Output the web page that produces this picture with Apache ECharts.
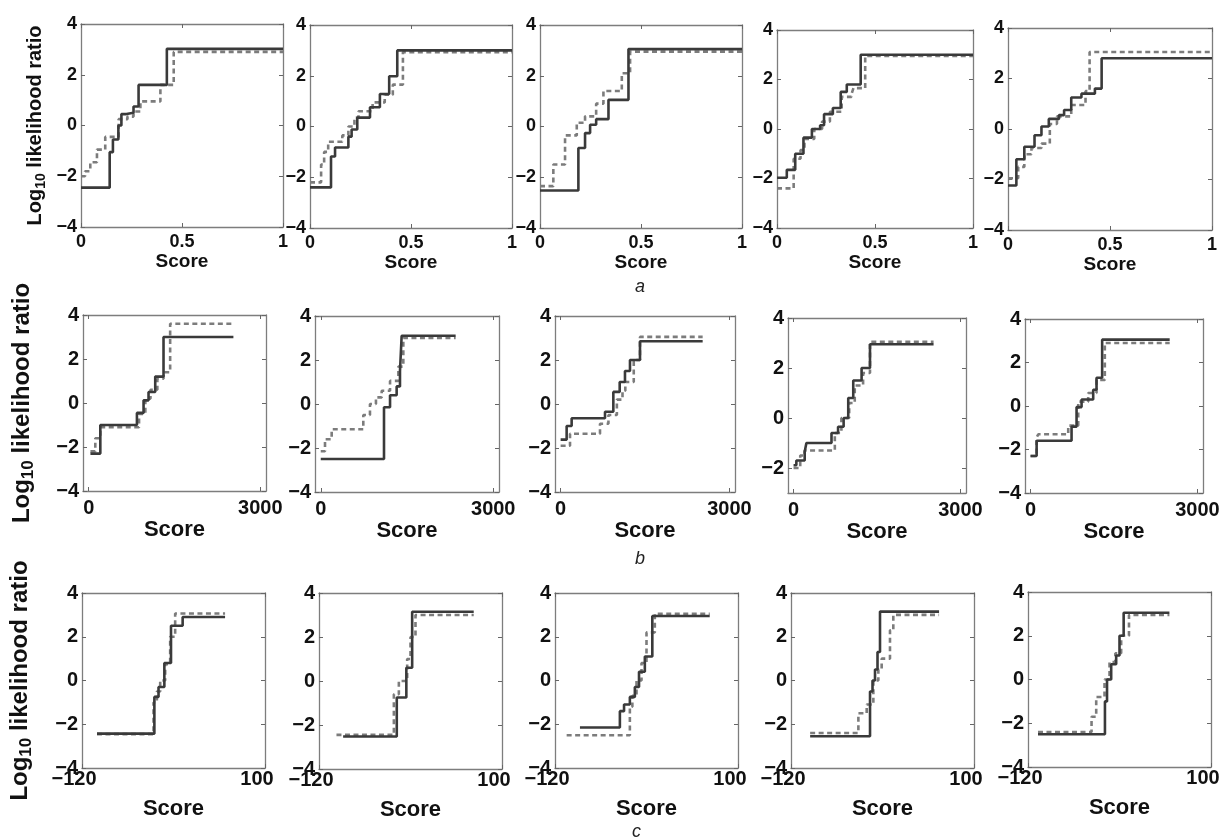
<!DOCTYPE html>
<html>
<head>
<meta charset="utf-8">
<script src="https://cdn.jsdelivr.net/npm/echarts@6/dist/echarts.min.js"></script>
<style>
html, body { margin: 0; background: #fff; }
#main { width: 1232px; height: 839px; }
</style>
</head>
<body>
<div id="main"></div>
<script>
// step curves: [score, log10 LR level starting at that score]
var a1Solid = [[0,-2.45],[0.142,-1.05],[0.158,-0.55],[0.185,0.0],[0.2,0.45],[0.225,0.5],[0.26,0.75],[0.285,1.6],[0.425,3.02],[1,3.02]];
var a1Dashed = [[0,-2.0],[0.02,-1.8],[0.046,-1.45],[0.079,-0.95],[0.12,-0.45],[0.186,0.25],[0.23,0.35],[0.26,0.55],[0.294,0.95],[0.393,1.6],[0.459,2.9],[1,2.9]];
var a2Solid = [[0,-2.4],[0.104,-1.18],[0.124,-0.83],[0.19,-0.4],[0.206,-0.12],[0.234,0.35],[0.297,0.76],[0.346,1.28],[0.392,1.98],[0.432,3.0],[1,3.0]];
var a2Dashed = [[0,-2.2],[0.055,-1.5],[0.07,-1.0],[0.09,-0.6],[0.16,-0.35],[0.19,0.0],[0.22,0.35],[0.24,0.6],[0.31,0.95],[0.37,1.25],[0.41,1.65],[0.46,2.93],[1,2.93]];
var a3Solid = [[0,-2.52],[0.19,-0.85],[0.223,-0.26],[0.248,0.07],[0.278,0.29],[0.339,1.05],[0.438,3.05],[1,3.05]];
var a3Dashed = [[0,-2.35],[0.066,-1.5],[0.124,-0.35],[0.182,0.15],[0.223,0.4],[0.278,0.9],[0.314,1.4],[0.405,2.1],[0.446,2.95],[1,2.95]];
var a4Solid = [[0,-1.97],[0.05,-1.65],[0.093,-1.0],[0.135,-0.35],[0.178,0.0],[0.22,0.15],[0.24,0.6],[0.285,0.85],[0.325,1.5],[0.356,1.8],[0.427,3.0],[1,3.0]];
var a4Dashed = [[0,-2.4],[0.085,-1.2],[0.12,-0.85],[0.14,-0.4],[0.19,0.0],[0.23,0.3],[0.27,0.7],[0.33,1.3],[0.38,1.4],[0.39,1.65],[0.45,2.95],[1,2.95]];
var a5Solid = [[0,-2.24],[0.041,-1.2],[0.08,-0.7],[0.13,-0.25],[0.164,0.1],[0.2,0.4],[0.25,0.55],[0.275,0.75],[0.31,1.25],[0.36,1.4],[0.426,1.6],[0.459,2.8],[1,2.8]];
var a5Dashed = [[0,-1.95],[0.05,-1.5],[0.08,-1.0],[0.115,-0.75],[0.164,-0.58],[0.205,0.2],[0.24,0.5],[0.31,0.95],[0.38,1.5],[0.4,3.05],[1,3.05]];

var b1Solid = [[30,-2.3],[203,-1.0],[843,-0.45],[959,0.12],[1046,0.5],[1163,1.2],[1308,3.0],[2530,3.0]];
var b1Dashed = [[30,-2.2],[115,-1.6],[203,-1.1],[880,-0.5],[990,0.2],[1080,0.6],[1200,1.1],[1308,1.4],[1424,3.6],[2530,3.6]];
var b2Solid = [[0,-2.5],[1100,-0.15],[1205,0.4],[1320,0.8],[1378,1.5],[1407,3.1],[2346,3.1]];
var b2Dashed = [[0,-2.15],[74,-1.6],[190,-1.15],[740,-0.5],[856,0.0],[960,0.3],[1060,0.6],[1205,1.05],[1350,1.7],[1436,3.0],[2346,3.0]];
var b3Solid = [[0,-1.62],[107,-1.0],[196,-0.65],[789,-0.35],[937,0.55],[1050,1.0],[1144,1.5],[1233,2.0],[1411,2.85],[2525,2.85]];
var b3Dashed = [[0,-1.9],[167,-1.35],[700,-0.9],[850,-0.5],[1000,0.2],[1100,0.6],[1150,1.0],[1300,2.0],[1411,3.05],[2525,3.05]];
var b4Solid = [[0,-1.89],[50,-1.7],[200,-1.35],[231,-1.0],[682,-0.6],[800,-0.35],[900,0.0],[983,0.8],[1073,1.5],[1223,2.0],[1374,2.95],[2517,2.95]];
var b4Dashed = [[0,-2.0],[120,-1.5],[200,-1.3],[742,-0.6],[860,0.0],[1000,0.6],[1100,1.3],[1250,1.8],[1374,3.05],[2517,3.05]];
var b5Solid = [[0,-2.3],[109,-1.6],[737,-0.95],[827,-0.05],[917,0.3],[1126,0.75],[1186,1.3],[1287,3.05],[2501,3.05]];
var b5Dashed = [[0,-2.3],[109,-1.45],[139,-1.3],[677,-0.9],[857,0.2],[1036,0.6],[1186,1.2],[1335,2.9],[2501,2.9]];

var c1Solid = [[-102,-2.43],[-33,-0.75],[-28,-0.3],[-21,0.8],[-13,2.5],[1,2.9],[52,2.9]];
var c1Dashed = [[-102,-2.45],[-34,-1.0],[-30,-0.5],[-26,0.0],[-20,0.75],[-14,2.0],[-8,3.06],[52,3.06]];
var c2Solid = [[-91,-2.52],[-26.5,-0.75],[-15,0.6],[-8,3.15],[66,3.15]];
var c2Dashed = [[-99,-2.45],[-30,-0.6],[-24,0.0],[-14,1.0],[-10,2.0],[-4,3.0],[66,3.0]];
var c3Solid = [[-90,-2.15],[-42,-1.4],[-37,-1.1],[-30,-0.75],[-24,-0.3],[-19,0.4],[-12,1.1],[-3,2.95],[66,2.95]];
var c3Dashed = [[-106,-2.5],[-30,-1.2],[-27,-0.7],[-22,0.0],[-16,0.8],[-10,2.2],[0,3.05],[66,3.05]];
var c4Solid = [[-97,-2.55],[-25,-0.5],[-22,0.0],[-19,0.5],[-16,1.3],[-13,3.15],[58,3.15]];
var c4Dashed = [[-97,-2.4],[-39,-1.5],[-29,-1.1],[-21,0.0],[-15,0.5],[-11,1.0],[-1,2.3],[3,3.0],[58,3.0]];
var c5Solid = [[-108,-2.5],[-27.5,-1.0],[-25,0.0],[-20,0.7],[-14,1.1],[-10,2.0],[-5,3.05],[50,3.05]];
var c5Dashed = [[-108,-2.4],[-43.6,-1.7],[-38,-0.8],[-28,0.0],[-22,0.8],[-15,1.2],[-8,2.0],[1.4,2.95],[50,2.95]];

var xTicksA = [0, 0.5, 1];
var xTicksB = [0, 3000];
var xTicksC = [-120, 100];
var yTicks = [-4, -2, 0, 2, 4];
var yTicksShort = [-2, 0, 2, 4];
var rowLetters = ['a', 'b', 'c'];

var rows = [
    { xMin: 0, xMax: 1, xTicks: xTicksA, tick: 18, name: 19, yName: 20, lblMargin: 6, nameGap: 22, yNameGap: 33, shift: 0, letterY: 288 },
    { xMin: -100, xMax: 3100, xTicks: xTicksB, tick: 20, name: 22, yName: 24, lblMargin: 7, nameGap: 27, yNameGap: 46, shift: 0, letterY: 560 },
    { xMin: -120, xMax: 100, xTicks: xTicksC, tick: 20, name: 22, yName: 24, lblMargin: 1, nameGap: 30, yNameGap: 47, shift: 16, letterY: 833 }
];

// left, top, width, height of each panel box
var panels = [
    { row: 0, box: [81, 24, 202, 203], solid: a1Solid, dashed: a1Dashed },
    { row: 0, box: [310, 25, 202, 203], solid: a2Solid, dashed: a2Dashed },
    { row: 0, box: [540, 25, 202, 203], solid: a3Solid, dashed: a3Dashed },
    { row: 0, box: [777, 30, 196, 198], solid: a4Solid, dashed: a4Dashed },
    { row: 0, box: [1008, 28, 204, 202], solid: a5Solid, dashed: a5Dashed },
    { row: 1, box: [83, 315, 183, 176], solid: b1Solid, dashed: b1Dashed },
    { row: 1, box: [315, 316, 184, 176], solid: b2Solid, dashed: b2Dashed },
    { row: 1, box: [555, 316, 180, 176], solid: b3Solid, dashed: b3Dashed },
    { row: 1, box: [788, 318, 178, 175], solid: b4Solid, dashed: b4Dashed, yMin: -3, yTicks: yTicksShort },
    { row: 1, box: [1025, 319, 178, 174], solid: b5Solid, dashed: b5Dashed },
    { row: 2, box: [82, 593, 183, 175], solid: c1Solid, dashed: c1Dashed },
    { row: 2, box: [319, 593, 183, 176], solid: c2Solid, dashed: c2Dashed },
    { row: 2, box: [555, 593, 183, 175], solid: c3Solid, dashed: c3Dashed },
    { row: 2, box: [791, 593, 183, 175], solid: c4Solid, dashed: c4Dashed },
    { row: 2, box: [1028, 592, 183, 175], solid: c5Solid, dashed: c5Dashed }
];

var font = 'Liberation Sans, Arial, sans-serif';
var frame = { show: true, onZero: false, lineStyle: { color: '#7d7d7d', width: 1.3 } };

function fmt(v) {
    return v < 0 ? '\u2212' + (-v) : String(v);
}

var grid = [], xAxis = [], yAxis = [], series = [];

panels.forEach(function (p, i) {
    var r = rows[p.row];
    var yt = p.yTicks || yTicks;
    var yMin = p.yMin !== undefined ? p.yMin : -4;
    grid.push({ left: p.box[0], top: p.box[1], width: p.box[2], height: p.box[3] });

    xAxis.push({
        type: 'value', gridIndex: i, position: 'bottom', min: r.xMin, max: r.xMax,
        name: 'Score', nameLocation: 'middle', nameGap: r.nameGap,
        nameTextStyle: { fontFamily: font, fontWeight: 'bold', fontSize: r.name, color: '#111' },
        axisLine: frame, splitLine: { show: false },
        axisTick: { inside: true, length: 4, customValues: r.xTicks, lineStyle: { color: '#666' } },
        axisLabel: {
            customValues: r.xTicks, formatter: fmt, margin: r.lblMargin, hideOverlap: false,
            fontFamily: font, fontWeight: 'bold', fontSize: r.tick, color: '#111',
            padding: [0, r.shift, 0, 0]
        }
    });
    xAxis.push({
        type: 'value', gridIndex: i, position: 'top', min: r.xMin, max: r.xMax,
        axisLine: frame, splitLine: { show: false }, axisLabel: { show: false },
        axisTick: { inside: true, length: 4, customValues: r.xTicks, lineStyle: { color: '#666' } }
    });

    var yLeft = {
        type: 'value', gridIndex: i, position: 'left', min: yMin, max: 4,
        axisLine: frame, splitLine: { show: false },
        axisTick: { inside: true, length: 4, customValues: yt, lineStyle: { color: '#666' } },
        axisLabel: {
            customValues: yt, formatter: fmt, margin: 4, hideOverlap: false,
            fontFamily: font, fontWeight: 'bold', fontSize: r.tick, color: '#111'
        }
    };
    if (i % 5 === 0) {
        yLeft.name = '{b|Log}{s|10}{b| likelihood ratio}';
        yLeft.nameLocation = 'middle';
        yLeft.nameRotate = 90;
        yLeft.nameGap = r.yNameGap;
        yLeft.nameTextStyle = {
            fontFamily: font, fontWeight: 'bold', color: '#111',
            rich: {
                b: { fontFamily: font, fontWeight: 'bold', fontSize: r.yName, color: '#111', lineHeight: r.yName + 6 },
                s: { fontFamily: font, fontWeight: 'bold', fontSize: Math.round(r.yName * 0.7), color: '#111',
                     verticalAlign: 'bottom', lineHeight: r.yName + 6, padding: [Math.round(r.yName * 0.5), 0, 0, 0] }
            }
        };
    }
    yAxis.push(yLeft);
    yAxis.push({
        type: 'value', gridIndex: i, position: 'right', min: yMin, max: 4,
        axisLine: frame, splitLine: { show: false }, axisLabel: { show: false },
        axisTick: { inside: true, length: 4, customValues: yt, lineStyle: { color: '#666' } }
    });

    series.push({
        type: 'line', xAxisIndex: 2 * i, yAxisIndex: 2 * i, data: p.dashed, step: 'end',
        showSymbol: false, z: 2,
        lineStyle: { color: '#7c7c7c', width: 2.6, type: [5, 3.5] }
    });
    series.push({
        type: 'line', xAxisIndex: 2 * i, yAxisIndex: 2 * i, data: p.solid, step: 'end',
        showSymbol: false, z: 3,
        lineStyle: { color: '#3a3a3a', width: 2.6 }
    });
});

var myChart = echarts.init(document.getElementById('main'));

var option = {
    backgroundColor: '#fff',
    animation: false,
    grid: grid,
    xAxis: xAxis,
    yAxis: yAxis,
    series: series,
    graphic: rows.map(function (r, k) {
        return {
            type: 'text', left: k === 2 ? 632 : 635, top: r.letterY - 10,
            style: { text: rowLetters[k], fontFamily: font, fontStyle: 'italic', fontSize: 18, fill: '#222' }
        };
    })
};

myChart.setOption(option);
</script>
</body>
</html>
